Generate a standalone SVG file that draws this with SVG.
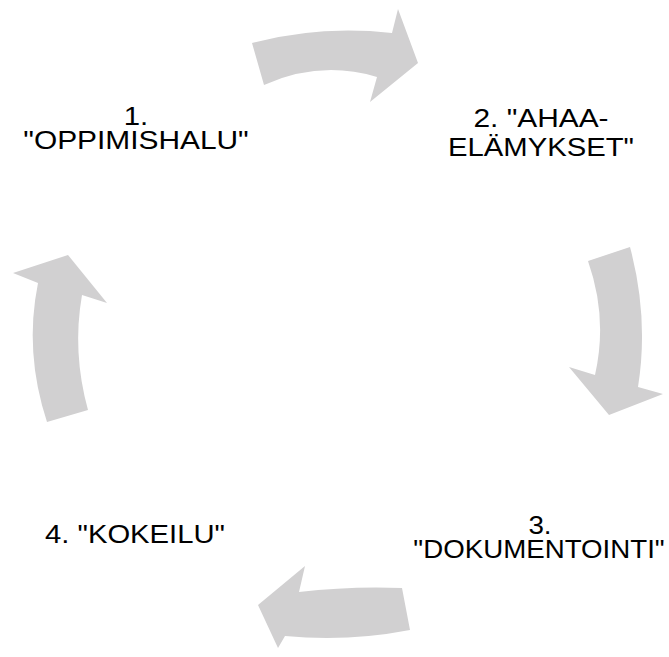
<svg xmlns="http://www.w3.org/2000/svg" width="669" height="657" viewBox="0 0 669 657">
<style>
.arr{fill:#d1d0d1;stroke:none}
.lbl{font-family:"Liberation Sans",Arial,sans-serif;font-size:26px;fill:#000;text-anchor:middle}
</style>
<rect width="669" height="657" fill="#fff"/>
<g id="connectors">
<path class="arr" d="M252,43 Q320,25 392,33 L398,9 L418,63 L370,102 L377,77 Q320,60 264,85 Z"/>
<path class="arr" d="M588,261 L630,247 Q649,318 638,387 L663,394 L609,415 L569,367 L595,375 Q608,318 588,261 Z"/>
<path class="arr" d="M402,588 L410,630 Q348,642 285,636 L278,648 L258,605 L305,566 L299,592 Q350,586 402,588 Z"/>
<path class="arr" d="M47,422 L88,410 Q72,352 82,295 L107,303 L68,255 L13,273 L38,283 Q24,352 47,422 Z"/>
</g>
<g id="node1">
<text class="lbl" transform="translate(136,125) scale(1.13,1)">1.</text>
<text class="lbl" transform="translate(136,149.3) scale(1.15,1)">"OPPIMISHALU"</text>
</g>
<g id="node2">
<text class="lbl" transform="translate(541,127.3) scale(1.15,1)">2. "AHAA-</text>
<text class="lbl" transform="translate(541,156) scale(1.125,1)">ELÄMYKSET"</text>
</g>
<g id="node3">
<text class="lbl" transform="translate(540,534.3) scale(1.07,1)">3.</text>
<text class="lbl" transform="translate(539,557.7) scale(1.065,1)">"DOKUMENTOINTI"</text>
</g>
<g id="node4">
<text class="lbl" transform="translate(135,543.3) scale(1.125,1)">4. "KOKEILU"</text>
</g>
</svg>
